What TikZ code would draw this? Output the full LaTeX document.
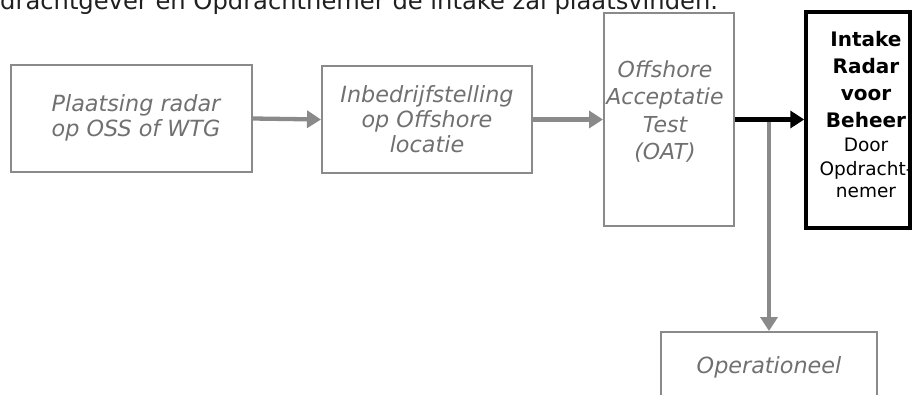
\documentclass[tikz,border=0pt]{standalone}
\usepackage{fontspec}
\setmainfont{DejaVu Sans}
\usetikzlibrary{arrows.meta}
\definecolor{boxgray}{HTML}{8A8A8A}
\definecolor{txtgray}{HTML}{707070}
\begin{document}
\begin{tikzpicture}[x=1pt,y=-1pt,
  gbox/.style={draw=boxgray, line width=2pt, inner sep=0pt, align=center,
    text=txtgray, font=\fontsize{22.3}{25}\selectfont\itshape},
  gtext/.style={inner sep=0pt, align=center, text=txtgray,
    font=\fontsize{22.3}{25}\selectfont\itshape},
  kbox/.style={draw=black, line width=3.5pt, inner sep=0pt},
  ktext/.style={inner sep=0pt, align=center, font=\fontsize{20}{27}\selectfont\bfseries},
  garrow/.style={draw=boxgray, line width=4.3pt, -{Triangle[length=14pt,width=17pt]}},
  karrow/.style={draw=black, line width=4.5pt, -{Triangle[length=14pt,width=17pt]}}]
\useasboundingbox (0,0) rectangle (913,394);
\clip (0,0) rectangle (913,394);

\node[anchor=base west, inner sep=0pt, text=black!88,
  font=\fontsize{24.2}{28}\selectfont] (top) at (0,9)
  {drachtgever en Opdrachtnemer de intake zal plaatsvinden.};

\node[gbox, minimum width=241pt, minimum height=107pt] (b1) at (131.5,118.5) {};
\node[gtext] (t1) at (136,118) {Plaatsing radar\\op OSS of WTG};
\node[gbox, minimum width=210pt, minimum height=107pt] (b2) at (427,119.5)
  {Inbedrijfstelling\\op Offshore\\locatie};
\node[gbox, minimum width=130pt, minimum height=213pt] (b3) at (669,119.5) {};
\node[gtext, font=\fontsize{22}{27.5}\selectfont\itshape] (t3) at (665,111.5)
  {Offshore\\Acceptatie\\Test\\(OAT)};
\node[kbox, minimum width=104pt, minimum height=216pt] (b4) at (858,120) {};
\node[ktext] (t4) at (866,115)
  {Intake\\Radar\\voor\\Beheer\\[-3pt]
   {\mdseries\fontsize{18.5}{25}\selectfont Door}\\[-3pt]
   {\mdseries\fontsize{18.5}{25}\selectfont Opdracht-}\\[-5pt]
   {\mdseries\fontsize{18.5}{25}\selectfont nemer}};
\node[gbox, minimum width=216pt, minimum height=70pt] (b5) at (769,367)
  {Operationeel};

\draw[garrow] (b1.east) -- (b2.west);
\draw[garrow] (b2.east) -- (b3.west);
\coordinate (j) at (b5.north |- b4.west);
\draw[garrow, line width=3.5pt] (j) -- (b5.north);
\draw[karrow] (b3.east) -- (b3.east -| b4.west);
\end{tikzpicture}
\end{document}
